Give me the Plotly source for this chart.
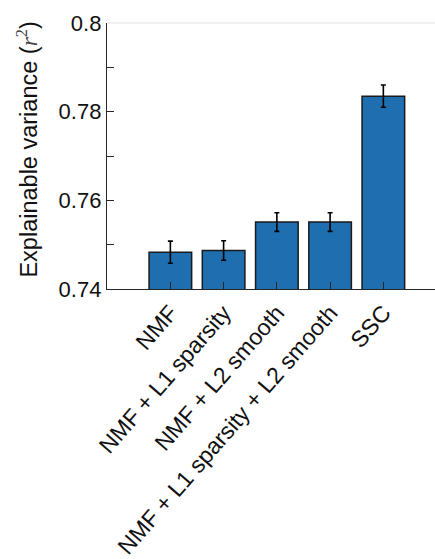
import plotly.graph_objects as go

categories = ["NMF", "NMF + L1 sparsity", "NMF + L2 smooth",
              "NMF + L1 sparsity + L2 smooth", "SSC"]
values = [0.7483, 0.7487, 0.7551, 0.7551, 0.7835]
errors = [0.0025, 0.0022, 0.0021, 0.0021, 0.0025]
y_tick_vals = [0.74, 0.75, 0.76, 0.77, 0.78, 0.79, 0.80]
y_tick_text = ["0.74", "", "0.76", "", "0.78", "", "0.8"]

AX = "#262626"
FONT = "Liberation Sans, Arial, sans-serif"

fig = go.Figure(
    go.Bar(
        x=categories,
        y=values,
        width=0.8,
        marker=dict(color="#1f6fb0", line=dict(color="#1a1a1a", width=1.5)),
        error_y=dict(type="data", array=errors, color="black",
                     thickness=1.6, width=2.5),
    )
)

fig.update_layout(
    width=435, height=559,
    margin=dict(l=107, r=0, t=23, b=268),
    paper_bgcolor="white", plot_bgcolor="white",
    showlegend=False,
    font=dict(family=FONT, color="#111111", size=22),
    xaxis=dict(
        type="category", range=[-1.19, 4.97],
        showline=True, linecolor=AX, linewidth=1.3,
        ticks="inside", ticklen=7, tickcolor=AX, tickwidth=1.2,
        tickangle=-49, tickfont=dict(size=23, family=FONT, color="#111111"),
        showgrid=False, zeroline=False,
    ),
    yaxis=dict(
        range=[0.74, 0.80],
        tickvals=y_tick_vals, ticktext=y_tick_text,
        showline=True, linecolor=AX, linewidth=1.3,
        ticks="inside", ticklen=7, tickcolor=AX, tickwidth=1.2,
        tickfont=dict(size=22, family=FONT, color="#111111"),
        showgrid=False, zeroline=False,
    ),
    shapes=[dict(type="line", xref="paper", yref="paper", x0=0, x1=1, y0=1, y1=1,
                 line=dict(color="#ebebeb", width=1.5), layer="below")],
    annotations=[dict(
        xref="paper", yref="paper", x=-0.244, y=0.524,
        xanchor="center", yanchor="middle", textangle=-90, showarrow=False,
        text='Explainable variance (<span style="font-family:Liberation Serif;color:#444"><i>r</i><sup>2</sup></span>)',
        font=dict(size=23.5, family=FONT, color="#111111"),
    )],
)

fig.write_html("out.html")
